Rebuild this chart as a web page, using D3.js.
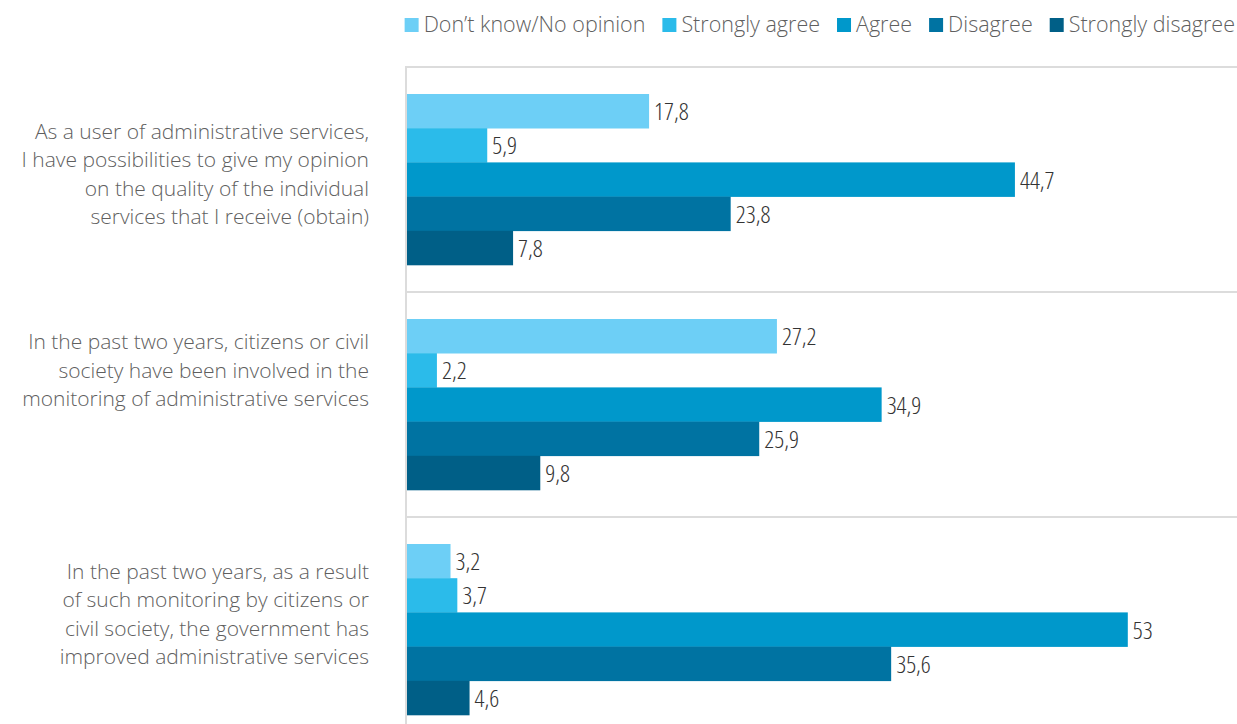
<!DOCTYPE html>
<html>
<head>
<meta charset="utf-8">
<script src="https://cdn.jsdelivr.net/npm/d3@7"></script>
<style>
  body { margin: 0; background: #fff; }
  svg { display: block; }
  .cat { font-family: "Open Sans", "Noto Sans", sans-serif; font-weight: 300; font-size: 21px; fill: #5f5f5f; }
  .leg { font-family: "Open Sans", "Noto Sans", sans-serif; font-weight: 300; font-size: 21.5px; fill: #5f5f5f; }
  .val { font-family: "Open Sans", "Roboto", sans-serif; font-weight: 300; font-stretch: 75%; font-size: 24.5px; fill: #333; }
</style>
</head>
<body>
<div class="chart"></div>
<script>
(function(){

var categories = [
  ["As a user of administrative services,", "I have possibilities to give my opinion", "on the quality of the individual", "services that I receive (obtain)"],
  ["In the past two years, citizens or civil", "society have been involved in the", "monitoring of administrative services"],
  ["In the past two years, as a result", "of such monitoring by citizens or", "civil society, the government has", "improved administrative services"]
];
var seriesNames = ["Don\u2019t know/No opinion", "Strongly agree", "Agree", "Disagree", "Strongly disagree"];
var colors = ["#6dcff6", "#2bbbea", "#0098cb", "#0073a2", "#005f87"];

var dontKnow        = [17.8, 27.2, 3.2];
var stronglyAgree   = [5.9, 2.2, 3.7];
var agree           = [44.7, 34.9, 53];
var disagree        = [23.8, 25.9, 35.6];
var stronglyDisagree = [7.8, 9.8, 4.6];

var seriesValues = [dontKnow, stronglyAgree, agree, disagree, stronglyDisagree];

// label block nudges (layout only)
var labelShift = [2, -27, -8];

var width = 1237, height = 724;

var svg = d3.select(".chart")
  .append("svg")
  .attr("width", width)
  .attr("height", height);

var x = d3.scaleLinear()
  .domain([0, 60])
  .range([407, 407 + 60 * 13.6]);

var y = d3.scaleBand()
  .domain(d3.range(categories.length))
  .range([67, 742])
  .paddingInner(0);

var ySub = d3.scaleBand()
  .domain(d3.range(seriesNames.length))
  .range([27, 27 + 5 * 34.2])
  .padding(0);

// gridlines between groups
svg.selectAll(".grid")
  .data(d3.range(categories.length))
  .enter()
  .append("line")
  .attr("class", "grid")
  .attr("x1", 405)
  .attr("x2", width)
  .attr("y1", function(d){ return y(d); })
  .attr("y2", function(d){ return y(d); })
  .attr("stroke", "#dcdcdc")
  .attr("stroke-width", 2);

// vertical axis line
svg.append("line")
  .attr("x1", 406)
  .attr("x2", 406)
  .attr("y1", 66)
  .attr("y2", height)
  .attr("stroke", "#dcdcdc")
  .attr("stroke-width", 2);

var fmt = function(v){ return String(v).replace(".", ","); };

var groups = svg.selectAll(".group")
  .data(d3.range(categories.length))
  .enter()
  .append("g")
  .attr("class", "group")
  .attr("transform", function(d){ return "translate(0," + y(d) + ")"; });

groups.each(function(ci){
  var g = d3.select(this);
  var rows = seriesValues.map(function(vals, si){ return {si: si, v: vals[ci]}; });

  g.selectAll("rect")
    .data(rows)
    .enter()
    .append("rect")
    .attr("x", x(0))
    .attr("y", function(d){ return ySub(d.si); })
    .attr("width", function(d){ return x(d.v) - x(0); })
    .attr("height", ySub.bandwidth() + 0.3)
    .attr("fill", function(d){ return colors[d.si]; });

  g.selectAll(".val")
    .data(rows)
    .enter()
    .append("text")
    .attr("class", "val")
    .attr("x", function(d){ return x(d.v) + 5; })
    .attr("y", function(d){ return ySub(d.si) + ySub.bandwidth() / 2 + 9; })
    .text(function(d){ return fmt(d.v); });

  // category label
  var lines = categories[ci];
  var lh = 28.5;
  var mid = ySub(0) + 5 * ySub.bandwidth() / 2 + labelShift[ci];
  var first = mid - (lines.length - 1) * lh / 2;
  var t = g.append("text")
    .attr("class", "cat")
    .attr("text-anchor", "end");
  lines.forEach(function(line, li){
    t.append("tspan")
      .attr("x", 369)
      .attr("y", first + li * lh)
      .text(line);
  });
});

// legend, laid out right to left ending at the right edge
var legend = svg.append("g").attr("class", "legend");
var items = legend.selectAll(".item")
  .data(seriesNames)
  .enter()
  .append("g")
  .attr("class", "item");

items.append("rect")
  .attr("width", 14)
  .attr("height", 14)
  .attr("y", 18)
  .attr("fill", function(d, i){ return colors[i]; });

items.append("text")
  .attr("class", "leg")
  .attr("x", 19)
  .attr("y", 32)
  .text(function(d){ return d; });

var widths = [];
items.each(function(){
  widths.push(19 + d3.select(this).select("text").node().getComputedTextLength());
});
var gap = 17;
var total = d3.sum(widths) + gap * (widths.length - 1);
var cx = 1235 - total;
items.attr("transform", function(d, i){
  var pos = cx;
  cx += widths[i] + gap;
  return "translate(" + pos + ",0)";
});

})();
</script>
</body>
</html>
